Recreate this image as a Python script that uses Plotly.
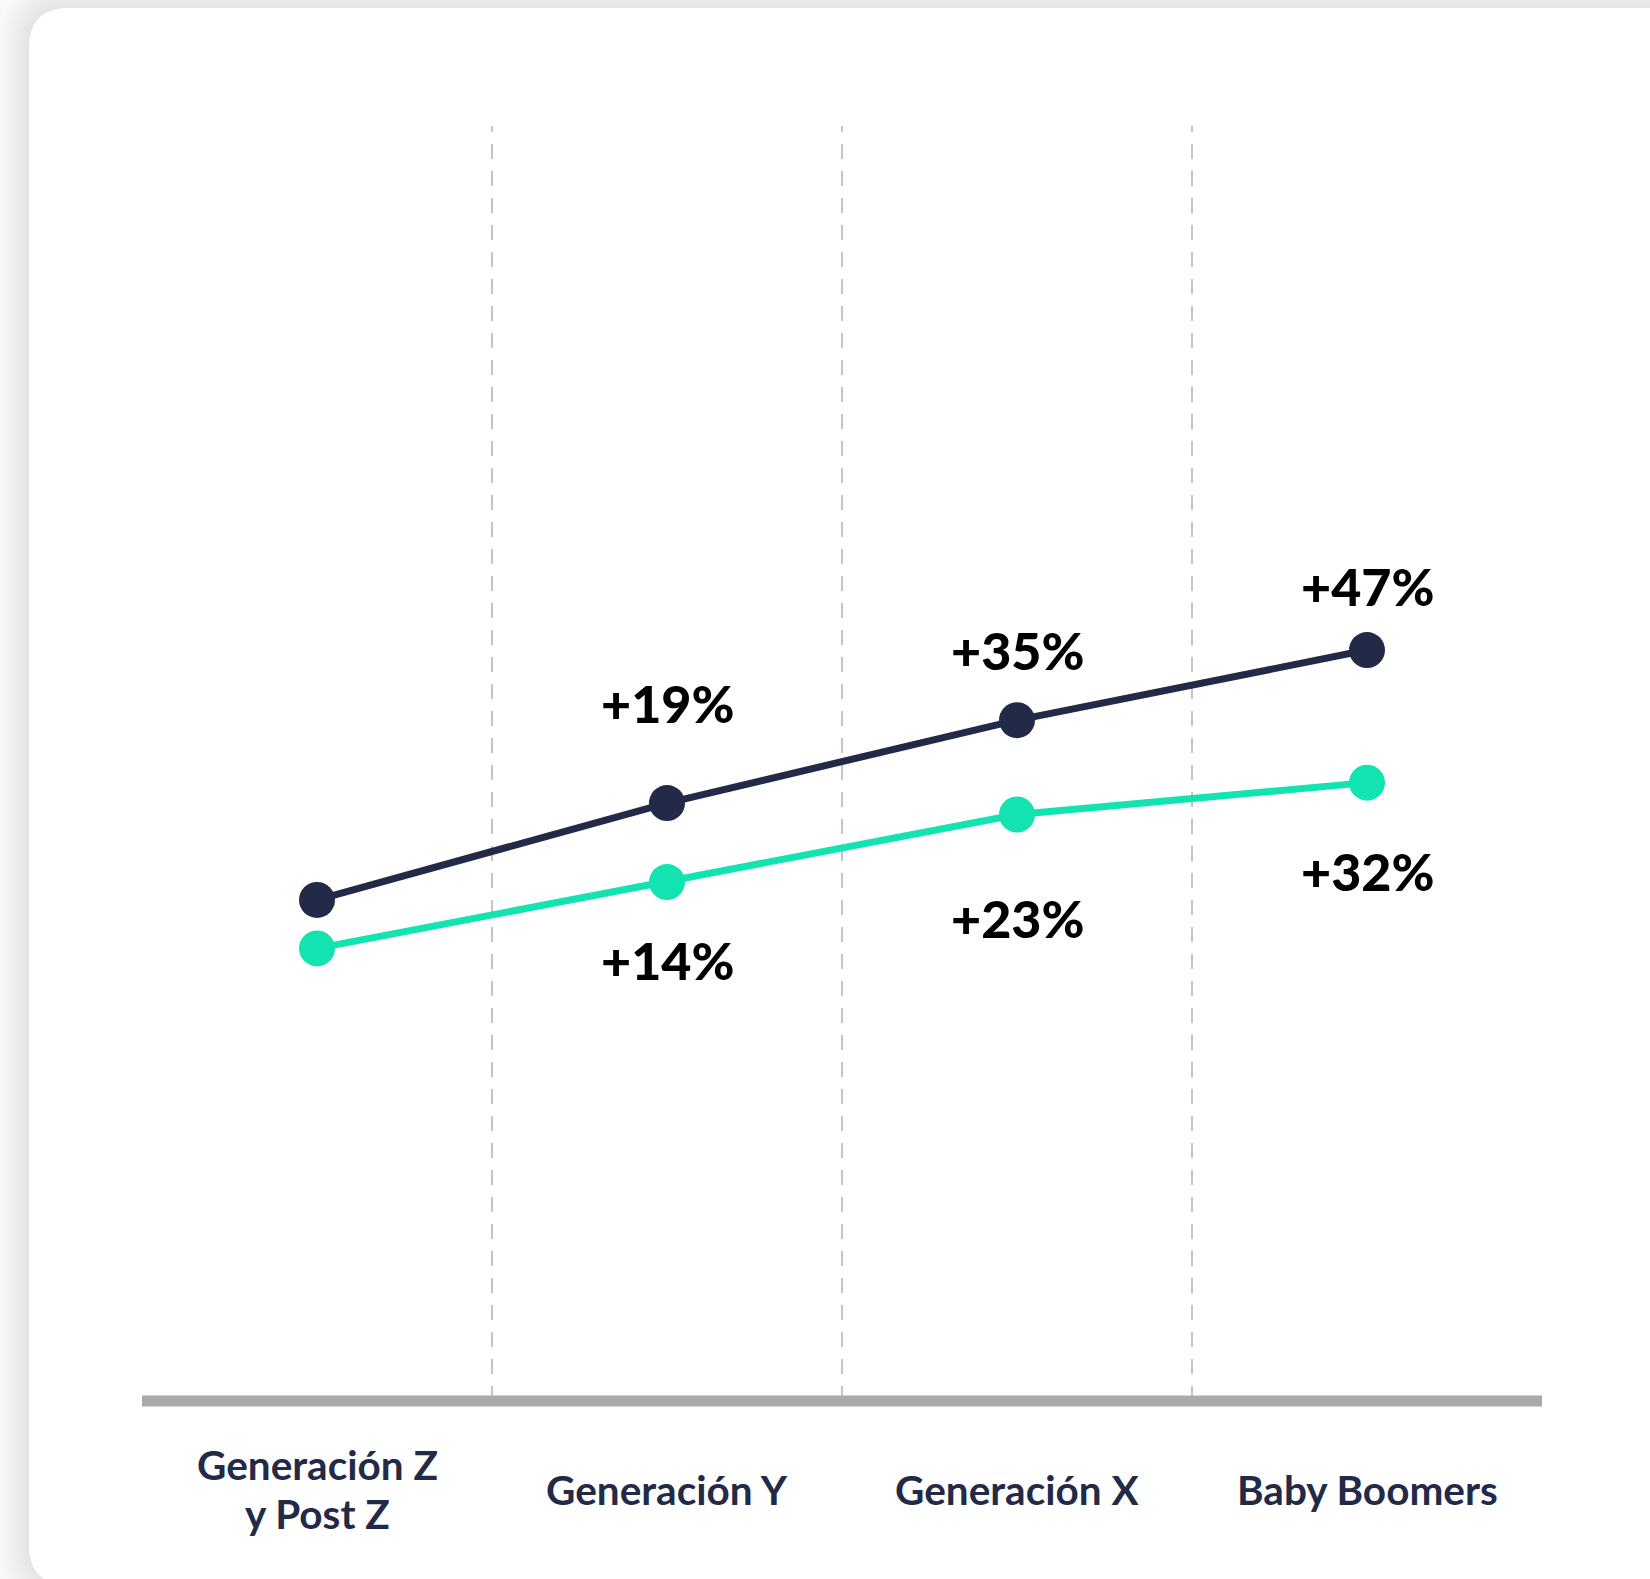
import plotly.graph_objects as go

# ---- data (arbitrary height units, axis 0..100) ----
categories = ["Generación Z y Post Z", "Generación Y", "Generación X", "Baby Boomers"]
tick_labels = ["Generación Z<br>y Post Z", "Generación Y", "Generación X", "Baby Boomers"]
dark_values = [39.3, 46.9, 53.4, 58.9]
teal_values = [35.5, 40.7, 46.0, 48.5]
dark_labels = ["", "+19%", "+35%", "+47%"]
teal_labels = ["", "+14%", "+23%", "+32%"]

# ---- style / layout ----
W, H = 1650, 1579
L, R, T, B = 142, 108, 126, 178
PW, PH = W - L - R, H - T - B
DARK = "#222a47"
TEAL = "#12e3b1"
FONT = "Lato"
PCT_FONT = "Lato Black, Lato"

dark_shift = [0, 100, 70, 64]
teal_shift = [0, -78, -103, -88]
LABEL_CENTER = -88      # px below baseline for category labels
LABEL_LINE = 48.4       # px between lines of a two-line category label


def px(x):
    return (x - L) / PW


def py(y):
    return (T + PH - y) / PH


def rounded_path(x0, y0, x1, y1, r):
    pts = [
        ("M", [(x0 + r, y0)]),
        ("L", [(x1 - r, y0)]),
        ("Q", [(x1, y0), (x1, y0 + r)]),
        ("L", [(x1, y1 - r)]),
        ("Q", [(x1, y1), (x1 - r, y1)]),
        ("L", [(x0 + r, y1)]),
        ("Q", [(x0, y1), (x0, y1 - r)]),
        ("L", [(x0, y0 + r)]),
        ("Q", [(x0, y0), (x0 + r, y0)]),
    ]
    s = ""
    for cmd, coords in pts:
        s += cmd + " " + " ".join(f"{px(a):.5f},{py(b):.5f}" for a, b in coords) + " "
    return s + "Z"


fig = go.Figure()

fig.add_trace(go.Scatter(
    x=categories, y=teal_values, mode="lines+markers",
    line=dict(color=TEAL, width=7),
    marker=dict(color=TEAL, size=36),
    hoverinfo="skip", showlegend=False,
))
fig.add_trace(go.Scatter(
    x=categories, y=dark_values, mode="lines+markers",
    line=dict(color=DARK, width=7),
    marker=dict(color=DARK, size=36),
    hoverinfo="skip", showlegend=False,
))

shapes = []
# card shadow
cx0, cy0, cx1, cy1, cr = 29, 8, 1687, 1585, 40
for d in range(30, 0, -3):
    shapes.append(dict(type="path", xref="paper", yref="paper", layer="below",
                       path=rounded_path(cx0 - d, cy0 - d, cx1 + d, cy1 + d, cr + d),
                       fillcolor="rgba(0,0,0,0.008)", line=dict(width=0)))
# card
shapes.append(dict(type="path", xref="paper", yref="paper", layer="below",
                   path=rounded_path(cx0, cy0, cx1, cy1, cr),
                   fillcolor="#ffffff", line=dict(width=0)))
# dashed dividers between categories
for i in range(len(categories) - 1):
    shapes.append(dict(type="line", xref="x", yref="paper", layer="below",
                       x0=i + 0.5, x1=i + 0.5, y0=0, y1=1,
                       line=dict(color="#c4c4c4", width=2, dash="15px,12px")))
# baseline
shapes.append(dict(type="line", xref="paper", yref="paper", layer="above",
                   x0=0, x1=1, y0=0, y1=0,
                   line=dict(color="#aaaaaa", width=11)))

annotations = []
for i, c in enumerate(categories):
    lines = tick_labels[i].split("<br>")
    n = len(lines)
    for j, line_text in enumerate(lines):
        annotations.append(dict(
            x=c, y=0, xref="x", yref="paper",
            yshift=LABEL_CENTER - (j - (n - 1) / 2) * LABEL_LINE,
            xanchor="center", yanchor="middle",
            text=line_text, showarrow=False,
            font=dict(family=FONT, size=40.5, color=DARK, weight=700),
        ))
    if dark_labels[i]:
        annotations.append(dict(
            x=c, y=dark_values[i], xref="x", yref="y", yshift=dark_shift[i],
            xanchor="center", yanchor="middle", text=dark_labels[i], showarrow=False,
            font=dict(family=PCT_FONT, size=52, color="#000000", weight=900),
        ))
    if teal_labels[i]:
        annotations.append(dict(
            x=c, y=teal_values[i], xref="x", yref="y", yshift=teal_shift[i],
            xanchor="center", yanchor="middle", text=teal_labels[i], showarrow=False,
            font=dict(family=PCT_FONT, size=52, color="#000000", weight=900),
        ))

fig.update_layout(
    width=W, height=H,
    margin=dict(l=L, r=R, t=T, b=B, pad=0),
    paper_bgcolor="#f9f9f9",
    plot_bgcolor="rgba(0,0,0,0)",
    shapes=shapes,
    annotations=annotations,
    xaxis=dict(type="category", range=[-0.5, 3.5], showgrid=False, zeroline=False,
               showline=False, showticklabels=False, ticks="", fixedrange=True),
    yaxis=dict(range=[0, 100], showgrid=False, zeroline=False, showline=False,
               showticklabels=False, ticks="", fixedrange=True),
    font=dict(family=FONT),
)

fig.write_html(
    "out.html",
    config={"displayModeBar": False, "staticPlot": True},
    post_script="document.body.style.margin='0';document.body.style.overflow='hidden';",
)
